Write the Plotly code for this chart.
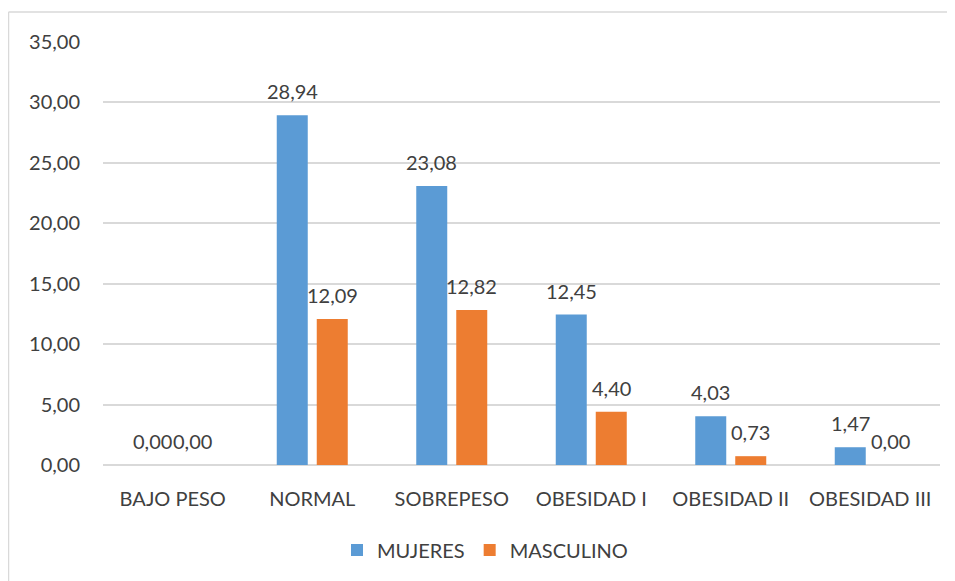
import plotly.graph_objects as go

categories = ["BAJO PESO", "NORMAL", "SOBREPESO", "OBESIDAD I", "OBESIDAD II", "OBESIDAD III"]
mujeres = [0.00, 28.94, 23.08, 12.45, 4.03, 1.47]
masculino = [0.00, 12.09, 12.82, 4.40, 0.73, 0.00]
series_names = ["MUJERES", "MASCULINO"]
colors = ["#5B9BD5", "#ED7D31"]
y_ticks = [0, 5, 10, 15, 20, 25, 30, 35]

FONT = "Lato, Open Sans, sans-serif"
TXT = "#404040"

# page is drawn with an 8px body offset; screen-space plot box:
SX0, SX1, SY0, SY1 = 103, 940, 42, 465
OFF = 8
W, H = 955, 581
L = SX0 - OFF
T = SY0 - OFF
R = W - (SX1 - OFF)
B = H - (SY1 - OFF)


def px_x(sx):
    return (sx - SX0) / (SX1 - SX0)


def px_y(sy):
    return (SY1 - sy) / (SY1 - SY0)


fig = go.Figure()
for name, vals, col in zip(series_names, [mujeres, masculino], colors):
    fig.add_trace(go.Bar(
        x=categories, y=vals, name=name,
        marker=dict(color=col, line=dict(width=0)),
        cliponaxis=False,
    ))

annotations = []
for shift, vals in zip([-20, 20], [mujeres, masculino]):
    for c, v in zip(categories, vals):
        annotations.append(dict(
            x=c, y=v, xref="x", yref="y", xshift=shift, yshift=24,
            text=f"{v:.2f}".replace(".", ","), showarrow=False,
            xanchor="center", yanchor="middle",
            font=dict(family=FONT, size=20, color=TXT),
        ))

fig.update_layout(
    width=W, height=H,
    margin=dict(l=L, r=R, t=T, b=B, pad=0),
    paper_bgcolor="white", plot_bgcolor="white",
    separators=",.",
    barmode="group", bargap=0.4265, bargroupgap=0.225,
    font=dict(family=FONT, color=TXT),
    xaxis=dict(showgrid=False, showline=False, ticks="", zeroline=False,
               ticklabelstandoff=20,
               tickfont=dict(family=FONT, size=20, color=TXT)),
    yaxis=dict(range=[0, 35], tickvals=y_ticks, tickformat=".2f",
               showgrid=True, gridcolor="#D9D9D9", gridwidth=1.5,
               zeroline=True, zerolinecolor="#D9D9D9", zerolinewidth=1.5,
               showline=False, ticks="", ticklabelstandoff=22,
               tickfont=dict(family=FONT, size=20, color=TXT)),
    legend=dict(orientation="h", x=px_x(485), xanchor="center", y=px_y(550), yanchor="middle",
                font=dict(family=FONT, size=20, color=TXT),
                traceorder="normal"),
    annotations=annotations,
    shapes=[
        dict(type="line", xref="paper", yref="paper", x0=px_x(8.5), x1=px_x(970),
             y0=px_y(12), y1=px_y(12), line=dict(color="#D9D9D9", width=1.5)),
        dict(type="line", xref="paper", yref="paper", x0=px_x(8.5), x1=px_x(8.5),
             y0=px_y(12), y1=px_y(600), line=dict(color="#D9D9D9", width=1.5)),
    ],
)

fig.write_html("out.html")
